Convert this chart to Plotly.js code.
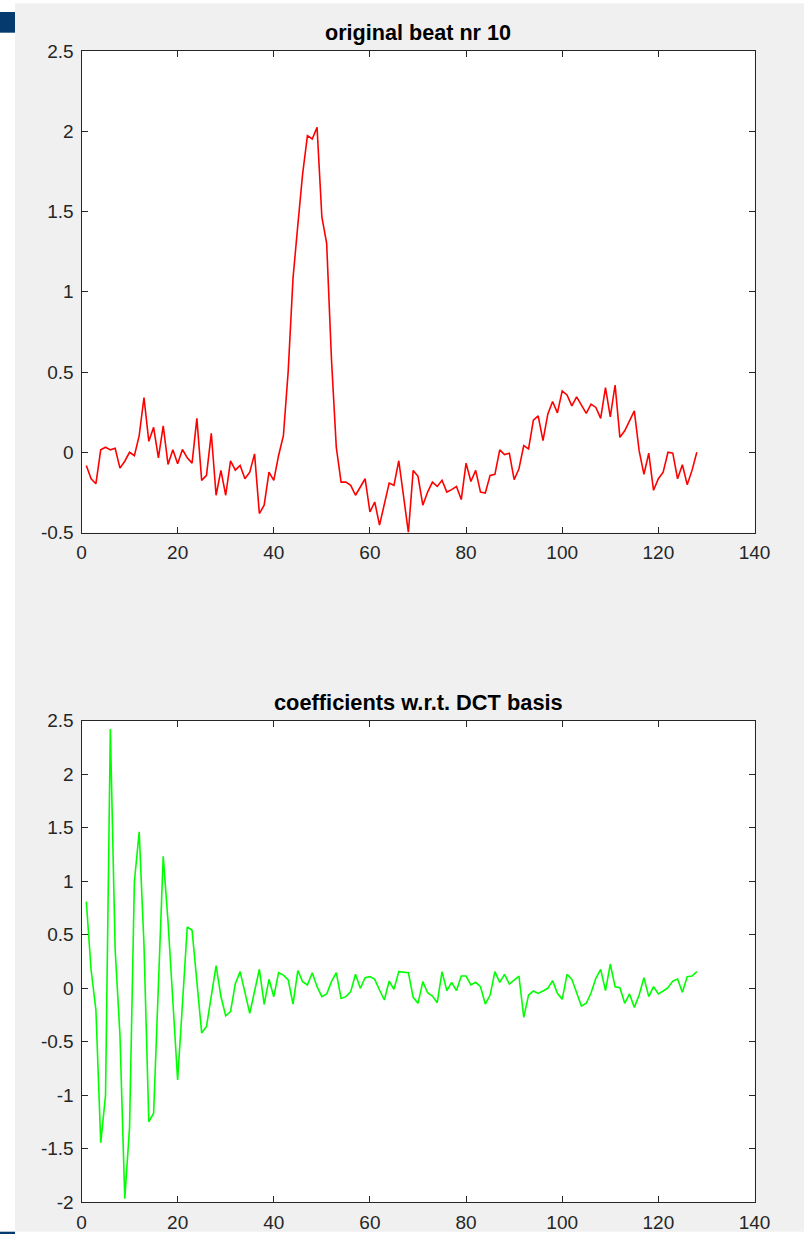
<!DOCTYPE html>
<html>
<head>
<meta charset="utf-8">
<script src="https://cdn.plot.ly/plotly-3.0.1.min.js"></script>
<style>
  html, body { margin: 0; padding: 0; background: #ffffff; }
  #plot { width: 804px; height: 1234px; }
</style>
</head>
<body>
<div id="plot"></div>
<script>
// Sample index 1..128 for one heartbeat
const sampleIndex = Array.from({length: 128}, (_, i) => i + 1);

// Original beat nr 10 (signal amplitude per sample)
const beatValues = [
  -0.082, -0.165, -0.196, 0.015, 0.031, 0.015, 0.025, -0.099, -0.056, 0.000,
  -0.021, 0.103, 0.341, 0.068, 0.155, -0.035, 0.165, -0.076, 0.015, -0.072,
  0.017, -0.035, -0.068, 0.211, -0.175, -0.144, 0.118, -0.268, -0.113, -0.268,
  -0.054, -0.111, -0.082, -0.165, -0.124, -0.010, -0.382, -0.330, -0.124, -0.175,
  -0.020, 0.103, 0.506, 1.084, 1.415, 1.735, 1.973, 1.952, 2.024, 1.467,
  1.301, 0.579, 0.031, -0.186, -0.186, -0.206, -0.268, -0.217, -0.165, -0.372,
  -0.310, -0.454, -0.320, -0.192, -0.206, -0.053, -0.275, -0.500, -0.113, -0.150,
  -0.330, -0.248, -0.186, -0.213, -0.175, -0.248, -0.233, -0.213, -0.295, -0.068,
  -0.182, -0.113, -0.248, -0.254, -0.144, -0.138, 0.015, -0.014, -0.006, -0.171,
  -0.103, 0.041, 0.021, 0.200, 0.227, 0.072, 0.237, 0.316, 0.245, 0.382,
  0.357, 0.289, 0.345, 0.293, 0.242, 0.300, 0.279, 0.211, 0.403, 0.221,
  0.419, 0.093, 0.134, 0.196, 0.258, 0.010, -0.138, -0.006, -0.237, -0.165,
  -0.124, 0.000, -0.006, -0.165, -0.078, -0.202, -0.113, 0.000
];

// Coefficients of the beat with respect to the DCT basis
const dctCoefficients = [
  0.807, 0.168, -0.206, -1.447, -1.001, 2.420, 0.360, -0.440, -1.970, -1.300,
  0.995, 1.460, 0.400, -1.250, -1.170, 0.050, 1.230, 0.620, -0.150, -0.860,
  -0.150, 0.570, 0.540, 0.070, -0.420, -0.360, -0.080, 0.210, -0.080, -0.260,
  -0.220, 0.040, 0.153, -0.030, -0.237, -0.030, 0.175, -0.153, 0.081, -0.081,
  0.143, 0.120, 0.075, -0.150, 0.162, 0.059, 0.028, 0.143, 0.012, -0.081,
  -0.056, 0.059, 0.143, -0.097, -0.081, -0.034, 0.128, -0.003, 0.097, 0.106,
  0.081, -0.019, -0.112, 0.065, -0.012, 0.153, 0.146, 0.143, -0.087, -0.143,
  0.059, -0.044, -0.075, -0.137, 0.153, -0.025, 0.053, -0.025, 0.112, 0.112,
  0.028, 0.053, 0.012, -0.150, -0.066, 0.153, 0.053, 0.128, 0.037, 0.075,
  0.112, -0.274, -0.066, -0.028, -0.050, -0.028, -0.003, 0.069, -0.050, -0.106,
  0.128, 0.081, -0.044, -0.168, -0.143, -0.044, 0.090, 0.174, -0.025, 0.224,
  0.012, 0.003, -0.143, -0.056, -0.181, -0.066, 0.097, -0.081, 0.012, -0.056,
  -0.028, 0.003, 0.065, 0.084, -0.041, 0.106, 0.112, 0.153
];

// Tick positions and their printed labels
const xTickVals = [0, 20, 40, 60, 80, 100, 120, 140];
const xTickText = ['0', '20', '40', '60', '80', '100', '120', '140'];
const beatTickVals = [-0.5, 0, 0.5, 1, 1.5, 2, 2.5];
const beatTickText = ['-0.5', '0', '0.5', '1', '1.5', '2', '2.5'];
const coefTickVals = [-2, -1.5, -1, -0.5, 0, 0.5, 1, 1.5, 2, 2.5];
const coefTickText = ['-2', '-1.5', '-1', '-0.5', '0', '0.5', '1', '1.5', '2', '2.5'];

const titles = ['original beat nr 10', 'coefficients w.r.t. DCT basis'];

const W = 804, H = 1234;
const axLeft = 81.5, axRight = 754.5;
const topBox = [51, 532.5];
const botBox = [720.5, 1202];
const px = v => v / W;
const py = v => 1 - v / H;

const axisColor = '#262626';
const fontFamily = 'Liberation Sans, Arial, sans-serif';
const tickFont = {family: fontFamily, size: 19, color: axisColor};

function axisStyle(extra) {
  return Object.assign({
    showline: true, mirror: 'ticks', linecolor: axisColor, linewidth: 1,
    ticks: 'inside', ticklen: 6, tickwidth: 1, tickcolor: axisColor,
    showgrid: false, zeroline: false, tickfont: tickFont, tickmode: 'array',
    fixedrange: true
  }, extra);
}

const traces = [
  {x: sampleIndex, y: beatValues, type: 'scatter', mode: 'lines',
   line: {color: '#ff0000', width: 1.6}, xaxis: 'x', yaxis: 'y', hoverinfo: 'skip'},
  {x: sampleIndex, y: dctCoefficients, type: 'scatter', mode: 'lines',
   line: {color: '#00ff00', width: 1.6}, xaxis: 'x2', yaxis: 'y2', hoverinfo: 'skip'}
];

const layout = {
  width: W, height: H,
  margin: {l: 0, r: 0, t: 0, b: 0},
  paper_bgcolor: '#f0f0f0',
  plot_bgcolor: '#ffffff',
  showlegend: false,
  xaxis: axisStyle({domain: [px(axLeft), px(axRight)], range: [0, 140],
    tickvals: xTickVals, ticktext: xTickText, anchor: 'y', ticklabelstandoff: 3}),
  yaxis: axisStyle({domain: [py(topBox[1]), py(topBox[0])], range: [-0.5, 2.5],
    tickvals: beatTickVals, ticktext: beatTickText, anchor: 'x', ticklabelstandoff: 3}),
  xaxis2: axisStyle({domain: [px(axLeft), px(axRight)], range: [0, 140],
    tickvals: xTickVals, ticktext: xTickText, anchor: 'y2', ticklabelstandoff: 3}),
  yaxis2: axisStyle({domain: [py(botBox[1]), py(botBox[0])], range: [-2, 2.5],
    tickvals: coefTickVals, ticktext: coefTickText, anchor: 'x2', ticklabelstandoff: 3}),
  annotations: [
    {text: '<b>' + titles[0] + '</b>', xref: 'paper', yref: 'paper',
     x: px((axLeft + axRight) / 2), y: py(33), xanchor: 'center', yanchor: 'middle',
     showarrow: false, font: {family: fontFamily, size: 21.6, color: '#000000'}},
    {text: '<b>' + titles[1] + '</b>', xref: 'paper', yref: 'paper',
     x: px((axLeft + axRight) / 2), y: py(702), xanchor: 'center', yanchor: 'middle',
     showarrow: false, font: {family: fontFamily, size: 21.8, color: '#000000'}}
  ],
  shapes: [
    // window frame: white strips along the left, top and bottom edges
    {type: 'rect', xref: 'paper', yref: 'paper', x0: 0, x1: px(15), y0: 0, y1: 1,
     fillcolor: '#ffffff', line: {width: 0}, layer: 'below'},
    {type: 'rect', xref: 'paper', yref: 'paper', x0: 0, x1: 1, y0: py(3.3), y1: 1,
     fillcolor: '#ffffff', line: {width: 0}, layer: 'below'},
    {type: 'rect', xref: 'paper', yref: 'paper', x0: 0, x1: 1, y0: 0, y1: py(1231.7),
     fillcolor: '#ffffff', line: {width: 0}, layer: 'below'},
    // dark blue markers at the left edge
    {type: 'rect', xref: 'paper', yref: 'paper', x0: 0, x1: px(15), y0: py(32.7), y1: py(12),
     fillcolor: '#053a6e', line: {width: 0}, layer: 'below'},
    {type: 'rect', xref: 'paper', yref: 'paper', x0: 0, x1: px(15), y0: 0, y1: py(1231.7),
     fillcolor: '#053a6e', line: {width: 0}, layer: 'below'}
  ]
};

Plotly.newPlot('plot', traces, layout, {staticPlot: true, displayModeBar: false});
</script>
</body>
</html>
